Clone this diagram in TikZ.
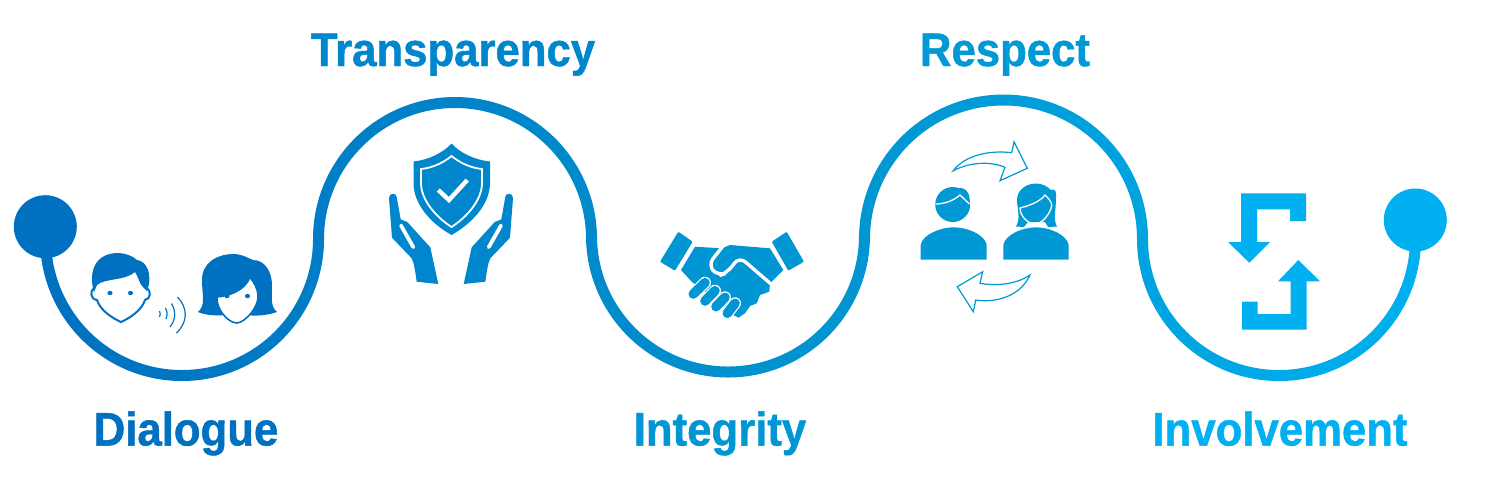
\documentclass[tikz,border=0pt]{standalone}
\usepackage{fontspec}
\setmainfont{Liberation Sans}[FakeStretch=0.93, BoldFeatures={FakeBold=1}]
\definecolor{blueA}{HTML}{0070C0}
\definecolor{blueB}{HTML}{0086CC}
\definecolor{blueC}{HTML}{0096D3}
\definecolor{blueD}{HTML}{0099D5}
\definecolor{blueE}{HTML}{00B0F0}
\definecolor{waveB}{HTML}{008ACB}
\definecolor{waveC}{HTML}{0096D2}
\definecolor{waveD}{HTML}{00A3E0}
\pgfdeclarehorizontalshading{waveshade}{100bp}{color(0bp)=(blueA); color(25bp)=(blueA);
  color(44.9bp)=(waveB); color(55bp)=(waveC); color(64.9bp)=(waveD); color(75bp)=(blueE); color(100bp)=(blueE)}
\begin{document}
\begin{tikzpicture}[
    x=0.5pt, y=-0.5pt,
    word/.style={anchor=base, font=\fontsize{23.5}{26}\selectfont\bfseries},
    slit/.style={white, line width=1.9pt, line cap=round},
    thinwhite/.style={white, line width=0.65pt},
    outline/.style={blueD, line width=0.6pt, line join=miter}
  ]
    % 固定画布大小
    \useasboundingbox (0,0) rectangle (1500,495);
    % 绘制波浪带,左右渐变
    \shade[shading=waveshade]
      (40,239) arc[start angle=180, end angle=0, radius=142] -- (324,239)
      arc[start angle=180, end angle=360, radius=131] -- (586,235.5)
      arc[start angle=180, end angle=0, radius=142] -- (870,239)
      arc[start angle=180, end angle=360, radius=133.5] -- (1137,239)
      arc[start angle=180, end angle=0, radius=142] -- (1421,220) -- (1410,220) -- (1410,239)
      arc[start angle=0, end angle=180, radius=131] -- (1148,239)
      arc[start angle=360, end angle=180, radius=144.5] -- (859,235.5)
      arc[start angle=0, end angle=180, radius=131] -- (597,239)
      arc[start angle=360, end angle=180, radius=142] -- (313,239)
      arc[start angle=0, end angle=180, radius=131] -- cycle;
    % 两端圆点
    \fill[blueA] (45.3,226.7) circle[radius=31.5];
    \fill[blueE] (1415.3,220) circle[radius=31.5];

    % 男孩头像
    \fill[white] (94,288) -- (147,288) -- (145,300) -- (121,322) -- (97,300) -- cycle;
    \draw[blueA, line width=1pt]
      (94,288) .. controls (90,291) and (90,299) .. (97,300)
      .. controls (100,310) and (112,318) .. (121,322)
      .. controls (130,318) and (142,310) .. (145,300)
      .. controls (151,299) and (151,291) .. (147,288);
    \fill[blueA] (94,292) .. controls (88,272) and (95,253) .. (118,253)
      .. controls (125,253) and (133,256) .. (137,260)
      .. controls (147,261) and (153,275) .. (147,291) -- (143,287)
      .. controls (140,285) and (138,276) .. (135,272)
      .. controls (125,281) and (105,278) .. (97,285) -- cycle;
    \fill[blueA] (110,293) ellipse[x radius=2.6, y radius=2.2];
    \fill[blueA] (130.5,293) ellipse[x radius=2.6, y radius=2.2];
    % 女孩头像
    \fill[blueA] (198,312) .. controls (206,305) and (202,295) .. (202,280)
      .. controls (202,262) and (218,254) .. (233,254)
      .. controls (242,254) and (248,258) .. (253,260)
      .. controls (265,260) and (272,272) .. (272,285)
      .. controls (272,298) and (270,306) .. (277,312)
      .. controls (265,316) and (255,316) .. (245,315) -- (226,315)
      .. controls (214,316) and (205,315) .. (198,312) -- cycle;
    \filldraw[fill=white, draw=blueA, line width=0.8pt]
      (217,297) .. controls (228,296) and (245,291) .. (250,277)
      .. controls (254,283) and (258,288) .. (258,297)
      .. controls (258,307) and (246,322) .. (237,323)
      .. controls (228,323) and (216,309) .. (217,297) -- cycle;
    \fill[blueA] (227,296) ellipse[x radius=2.6, y radius=2.2];
    \fill[blueA] (247.5,296) ellipse[x radius=2.6, y radius=2.2];
    % 声波
    \draw[blueA, line width=0.6pt]
      (159.5,311) .. controls (160.5,313) and (160.5,315) .. (159.5,317);
    \draw[blueA, line width=0.6pt]
      (165.5,308) .. controls (167.5,312) and (167.5,315) .. (166,319);
    \draw[blueA, line width=0.6pt]
      (171.5,303.5) .. controls (176,311) and (176,319) .. (170,327);
    \draw[blueA, line width=0.6pt]
      (177.5,297) .. controls (188,308) and (188,322) .. (176.5,333);

    % 盾牌
    \fill[blueB] (451.5,143.5) .. controls (443,153) and (428,160) .. (413.5,161.5)
      -- (413.5,183) .. controls (413.5,205) and (432,224) .. (451.5,235)
      .. controls (471,224) and (490,205) .. (490,183) -- (490,161.5)
      .. controls (475,160) and (460,153) .. (451.5,143.5) -- cycle;
    \draw[thinwhite, line width=0.9pt]
      (451.5,156) .. controls (443,163) and (432,168) .. (421,169)
      -- (421,183) .. controls (421,200) and (436,217) .. (451.5,227)
      .. controls (467,217) and (482,200) .. (482,183) -- (482,169)
      .. controls (471,168) and (460,163) .. (451.5,156) -- cycle;
    \draw[white, line width=2.2pt] (438.3,190) -- (449,200) -- (467.3,180);
    % 双手
    \foreach \s in {1,-1}{
      \begin{scope}[shift={(451,0)}, xscale=\s]
        \fill[blueB] (-62,198) .. controls (-62,192.5) and (-54.5,192.5) .. (-54.3,197)
          -- (-50.3,219.3) -- (-43.7,222) -- (-20.7,247.3) -- (-12.7,284) -- (-34.3,281.7)
          .. controls (-36,270) and (-37,263) .. (-39.3,258.3) -- (-59,237.7) -- cycle;
        \draw[slit] (-50,225.5) -- (-37.7,247.2);
      \end{scope}
    }

    % 握手
    \fill[blueC, rounded corners=0.5pt] (678.3,231.7) -- (692.7,241.7) -- (675,270.7) -- (660,261.7) -- cycle;
    \fill[blueC, rounded corners=0.5pt] (786.7,231.7) -- (771.7,241.7) -- (788.3,270.7) -- (804,261.7) -- cycle;
    \fill[blueC] (695,246.7) -- (721.7,248.3) -- (730,245) -- (770,248.3) -- (783.3,270) -- (770,283.3)
      -- (769.3,291.7) -- (760,295) -- (756.7,303.3) -- (750,306) -- (745,313.3) -- (738.3,317.7)
      -- (733.3,315) -- (691.7,281.7) -- (681,270) -- cycle;
    \draw[white, line width=1.7pt, rounded corners=4pt]
      (723,246) -- (708,265) -- (718,276) -- (727,273) -- (739.3,256.7) -- (771,284);
    \foreach \xa/\ya/\xb/\yb in {693.3/294/705/282.7, 705/301/715/290.7, 716/306.7/725/297.3, 727.3/313.3/735/303.3}{
      \draw[white, line width=6pt, line cap=round] (\xa,\ya) -- (\xb,\yb);
      \draw[blueC, line width=4.8pt, line cap=round] (\xa,\ya) -- (\xb,\yb);
    }

    % 交换的两人
    \fill[blueD] (920.7,259.5) -- (920.7,245) .. controls (922,235) and (940,227.3) .. (953.7,227.3)
      .. controls (968,227.3) and (985,235) .. (986.7,245) -- (986.7,259.5) -- cycle;
    \fill[blueD] (952.7,204.5) circle[radius=17.5];
    \fill[blueD] (958,188) .. controls (966,187) and (972,194) .. (969,207) -- (960,195) -- cycle;
    \draw[thinwhite] (935.5,204) .. controls (942,204) and (952,202) .. (960,195) -- (969.5,204);
    \fill[blueD] (1003.3,259.5) -- (1003.3,245) .. controls (1005,235) and (1022,227.3) .. (1036,227.3)
      .. controls (1050,227.3) and (1067,235) .. (1068.7,245) -- (1068.7,259.5) -- cycle;
    \fill[blueD] (1016,226.5) .. controls (1021,218) and (1017,208) .. (1017,200)
      .. controls (1017,190) and (1026,183.5) .. (1036,183.5)
      .. controls (1042,183.5) and (1047,186) .. (1051,190)
      .. controls (1055,188) and (1057,192) .. (1056,198)
      .. controls (1056,210) and (1053,220) .. (1057,226.5) -- (1048,227) -- (1045,222)
      -- (1028,222) -- (1024,227) -- cycle;
    \draw[thinwhite] (1020,208) .. controls (1028,206) and (1040,202) .. (1045,195)
      .. controls (1049,199) and (1052,202) .. (1051.7,206)
      .. controls (1050,214) and (1042,224) .. (1035,224)
      .. controls (1028,224) and (1020,216) .. (1020,208) -- cycle;
    % 空心弯箭头
    \draw[outline] (953.3,170.7) .. controls (965,155) and (990,150) .. (1011.7,152.7)
      -- (1014,141.7) -- (1027.3,168.3) -- (1000,180.7) -- (1005,167.3)
      .. controls (990,161) and (970,162) .. (953.3,170.7) -- cycle;
    \draw[outline] (1030,275) .. controls (1015,285) and (995,286) .. (980,283.3)
      -- (982.7,271.7) -- (957.3,286.7) -- (973.3,311.7) -- (975.7,300)
      .. controls (995,303) and (1020,297) .. (1030,275) -- cycle;

    % 方折箭头
    \fill[blueE] (1241,193.3) -- (1306,193.3) -- (1306,221) -- (1290,221) -- (1290,209.3) -- (1257,209.3)
      -- (1257,242) -- (1270,242) -- (1249.3,262.7) -- (1228,242) -- (1241,242) -- cycle;
    \fill[blueE] (1242,301.7) -- (1257.7,301.7) -- (1257.7,314) -- (1290.7,314) -- (1290.7,281.3)
      -- (1278,281.3) -- (1298.3,260) -- (1320,281.3) -- (1306.7,281.3) -- (1306.7,329.7) -- (1242,329.7) -- cycle;

    % 标记文字
    \node[word, text=blueA] (dialogue) at (186,445.5) {Dialogue};
    \node[word, text=blueB] (transparency) at (453,66) {Transparency};
    \node[word, text=blueC] (integrity) at (720,445.5) {Integrity};
    \node[word, text=blueD] (respect) at (1005,66) {Respect};
    \node[word, text=blueE] (involvement) at (1280,445.5) {Involvement};
\end{tikzpicture}
\end{document}
